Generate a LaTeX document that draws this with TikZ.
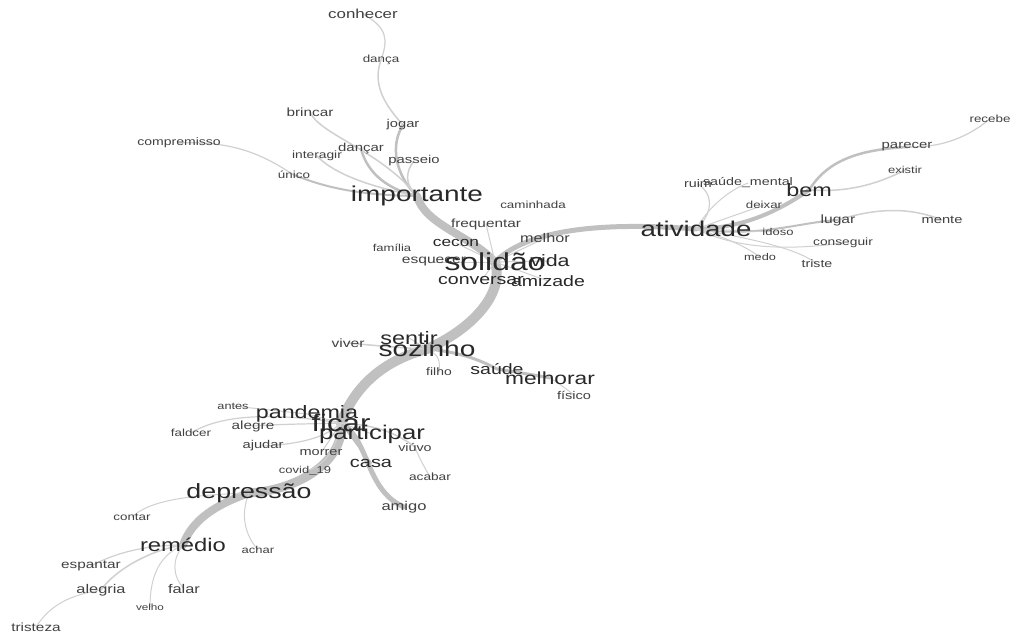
\documentclass[tikz,border=0pt]{standalone}
\usepackage{fontspec}
\setmainfont{Liberation Sans}[FakeStretch=1.3]
\usetikzlibrary{backgrounds}
\definecolor{edgec}{RGB}{192,192,192}
\definecolor{thinc}{RGB}{208,208,208}
\definecolor{txt}{RGB}{40,40,40}
\definecolor{txts}{RGB}{65,65,65}
\begin{document}
\begin{tikzpicture}[x=1pt,y=-1pt,
  word/.style={inner sep=0pt, text=txt, font=\fontsize{#1}{#1}\selectfont},
  sword/.style={inner sep=0pt, text=txts, font=\fontsize{#1}{#1}\selectfont},
  lnk/.style={draw=edgec, line width=#1, line cap=round},
  tlnk/.style={draw=thinc, line width=#1, line cap=round}]
\useasboundingbox (0,0) rectangle (1011,637);
% ---- top branch
\node[sword=13] (conhecer) at (363,14) {conhecer};
\node[sword=10.3] (danca) at (381,60) {dança};
\node[sword=11.8] (brincar) at (310,112) {brincar};
\node[sword=11.3] (jogar) at (403,125) {jogar};
\node[sword=10.8] (compremisso) at (179,143) {compremisso};
\node[sword=11.5] (dancar) at (361,149) {dançar};
\node[sword=10.6] (interagir) at (317,156) {interagir};
\node[sword=11.4] (passeio) at (414,161) {passeio};
\node[sword=10.3] (unico) at (294,175) {único};
\node[word=21.5] (importante) at (417,196) {importante};
% ---- centre
\node[sword=10.3] (caminhada) at (533,205) {caminhada};
\node[sword=11.8] (frequentar) at (486,224) {frequentar};
\node[sword=12.5] (melhor) at (545,238) {melhor};
\node[word=13.3] (cecon) at (456,243) {cecon};
\node[sword=10] (familia) at (392,248) {família};
\node[sword=12] (esquecer) at (434,262) {esquecer};
\node[word=16.5] (vida) at (550,261) {vida};
\node[word=24.5] (solidao) at (495,262) {solidão};
\node[word=15] (conversar) at (481,281) {conversar};
\node[word=15] (amizade) at (548,281) {amizade};
% ---- right
\node[sword=10.3] (recebe) at (990,119) {recebe};
\node[sword=11.5] (parecer) at (907,147) {parecer};
\node[sword=10] (existir) at (905,170) {existir};
\node[sword=11] (ruim) at (698,184) {ruim};
\node[sword=11] (saudemental) at (748,183) {saúde\_mental};
\node[word=18] (bem) at (809,190) {bem};
\node[sword=10.2] (deixar) at (764,205) {deixar};
\node[sword=12] (lugar) at (838,220) {lugar};
\node[sword=11.3] (mente) at (942,220) {mente};
\node[word=21.3] (atividade) at (696,229) {atividade};
\node[sword=10] (idoso) at (778,232) {idoso};
\node[sword=10.6] (conseguir) at (843,243) {conseguir};
\node[sword=9.8] (medo) at (760,257) {medo};
\node[sword=10.9] (triste) at (817,264) {triste};
% ---- sozinho
\node[sword=12] (viver) at (348,343) {viver};
\node[word=18] (sentir) at (409,338) {sentir};
\node[word=21.6] (sozinho) at (427,349) {sozinho};
\node[sword=10.7] (filho) at (439,372) {filho};
\node[word=15] (saude) at (497,369) {saúde};
\node[word=17.5] (melhorar) at (550,378) {melhorar};
\node[sword=11.2] (fisico) at (574,395) {físico};
% ---- ficar
\node[sword=9.8] (antes) at (233,406) {antes};
\node[word=17.9] (pandemia) at (307,414) {pandemia};
\node[word=24] (ficar) at (341,423) {ficar};
\node[sword=11.8] (alegre) at (253,426) {alegre};
\node[word=19.8] (participar) at (372,434) {participar};
\node[sword=10.3] (faldcer) at (191,433) {faldcer};
\node[sword=11.3] (ajudar) at (263,446) {ajudar};
\node[sword=11] (viuvo) at (415,447) {viúvo};
\node[sword=11.2] (morrer) at (321,453) {morrer};
\node[sword=10] (covid) at (305,471) {covid\_19};
\node[word=15.3] (casa) at (371,463) {casa};
\node[sword=10.5] (acabar) at (430,477) {acabar};
\node[word=20.6] (depressao) at (249,493) {depressão};
\node[sword=12.7] (amigo) at (404,507) {amigo};
% ---- remedio
\node[sword=10.3] (contar) at (132,517) {contar};
\node[word=18.3] (remedio) at (183,545) {remédio};
\node[sword=10] (achar) at (258,550) {achar};
\node[sword=11.8] (espantar) at (91,566) {espantar};
\node[sword=12.6] (alegria) at (101,590) {alegria};
\node[sword=12.6] (falar) at (184,589) {falar};
\node[sword=9] (velho) at (150,607) {velho};
\node[sword=11.8] (tristeza) at (36,627) {tristeza};

\begin{pgfonlayer}{background}
\fill[white] (0,0) rectangle (1011,637);
% trunk
\draw[lnk=8] (importante.center) .. controls (425,225) and (470,235) .. (solidao.center);
\draw[lnk=10] (solidao.center) .. controls (505,295) and (470,330) .. (sozinho.center);
\draw[lnk=10] (sozinho.center) .. controls (385,360) and (355,385) .. (ficar.center);
\draw[lnk=9] (ficar.center) .. controls (345,460) and (300,490) .. (depressao.center);
\draw[lnk=8] (depressao.center) .. controls (215,505) and (192,520) .. (remedio.center);
\draw[lnk=5] (solidao.center) .. controls (512,245) and (555,218) .. (atividade.center);
% top
\draw[lnk=2.5] (importante.center) .. controls (395,175) and (390,145) .. (jogar.center);
\draw[tlnk=1.5] (jogar.center) .. controls (385,105) and (372,85) .. (danca.center);
\draw[tlnk=1.2] (danca.center) .. controls (388,40) and (388,28) .. (conhecer.center);
\draw[tlnk=1.5] (importante.center) .. controls (405,185) and (405,172) .. (passeio.center);
\draw[lnk=2.5] (importante.center) .. controls (390,190) and (368,175) .. (dancar.center);
\draw[tlnk=1.5] (brincar.center) .. controls (320,135) and (380,150) .. (importante.center);
\draw[tlnk=1.5] (interagir.center) .. controls (330,170) and (360,185) .. (importante.center);
\draw[lnk=2] (unico.center) .. controls (320,185) and (350,195) .. (importante.center);
\draw[tlnk=1.2] (compremisso.center) .. controls (240,140) and (270,160) .. (unico.center);
% centre
\draw[tlnk=1] (solidao.center) -- (frequentar.center);
\draw[tlnk=1] (solidao.center) -- (cecon.center);
\draw[tlnk=1] (solidao.center) -- (melhor.center);
\draw[tlnk=1] (solidao.center) -- (esquecer.center);
\draw[tlnk=1] (solidao.center) -- (vida.center);
\draw[tlnk=1] (solidao.center) -- (conversar.center);
\draw[tlnk=1] (solidao.center) -- (amizade.center);
% right
\draw[lnk=4] (atividade.center) .. controls (745,228) and (780,210) .. (bem.center);
\draw[lnk=2.5] (bem.center) .. controls (825,165) and (850,150) .. (parecer.center);
\draw[tlnk=1.2] (parecer.center) .. controls (945,148) and (970,135) .. (recebe.center);
\draw[tlnk=1.5] (bem.center) .. controls (840,192) and (870,188) .. (existir.center);
\draw[lnk=2] (atividade.center) .. controls (760,238) and (800,222) .. (lugar.center);
\draw[tlnk=1.5] (lugar.center) .. controls (870,210) and (905,205) .. (mente.center);
\draw[tlnk=1] (atividade.center) .. controls (740,250) and (790,250) .. (conseguir.center);
\draw[tlnk=1] (atividade.center) .. controls (760,240) and (800,250) .. (triste.center);
\draw[tlnk=1] (atividade.center) .. controls (735,240) and (750,250) .. (medo.center);
\draw[tlnk=1.2] (atividade.center) .. controls (712,215) and (715,195) .. (ruim.center);
\draw[tlnk=1] (atividade.center) .. controls (710,205) and (730,190) .. (saudemental.center);
\draw[tlnk=1] (atividade.center) -- (deixar.center);
\draw[tlnk=1] (atividade.center) -- (idoso.center);
% sozinho
\draw[tlnk=1] (sozinho.center) -- (sentir.center);
\draw[tlnk=1.5] (viver.center) .. controls (370,345) and (400,348) .. (sozinho.center);
\draw[tlnk=1] (sozinho.center) .. controls (440,355) and (440,362) .. (filho.center);
\draw[lnk=3] (sozinho.center) .. controls (460,352) and (480,360) .. (saude.center);
\draw[lnk=3] (saude.center) .. controls (515,372) and (535,375) .. (melhorar.center);
\draw[tlnk=1] (melhorar.center) .. controls (560,384) and (565,388) .. (fisico.center);
% ficar
\draw[lnk=5] (ficar.center) .. controls (370,440) and (365,490) .. (amigo.center);
\draw[tlnk=1] (ficar.center) -- (participar.center);
\draw[tlnk=1] (ficar.center) -- (pandemia.center);
\draw[lnk=2] (ficar.center) -- (casa.center);
\draw[tlnk=1.5] (ficar.center) .. controls (375,425) and (395,432) .. (viuvo.center);
\draw[tlnk=1] (viuvo.center) .. controls (420,460) and (425,468) .. (acabar.center);
\draw[tlnk=1.2] (alegre.center) .. controls (280,424) and (310,424) .. (ficar.center);
\draw[tlnk=1.2] (faldcer.center) .. controls (220,415) and (270,412) .. (ficar.center);
\draw[tlnk=1] (antes.center) -- (pandemia.center);
\draw[tlnk=1.2] (ajudar.center) .. controls (300,444) and (325,438) .. (ficar.center);
\draw[tlnk=1] (ficar.center) -- (morrer.center);
\draw[tlnk=1] (ficar.center) .. controls (335,455) and (320,468) .. (covid.center);
\draw[tlnk=1] (depressao.center) .. controls (190,495) and (150,500) .. (contar.center);
\draw[tlnk=1] (depressao.center) .. controls (240,515) and (245,535) .. (achar.center);
% remedio
\draw[tlnk=1.2] (remedio.center) .. controls (145,545) and (115,553) .. (espantar.center);
\draw[tlnk=1.5] (remedio.center) .. controls (150,550) and (115,570) .. (alegria.center);
\draw[tlnk=1] (alegria.center) .. controls (70,595) and (50,605) .. (tristeza.center);
\draw[tlnk=1] (remedio.center) .. controls (160,555) and (150,575) .. (velho.center);
\draw[tlnk=1] (remedio.center) .. controls (172,560) and (172,575) .. (falar.center);
\end{pgfonlayer}
\end{tikzpicture}
\end{document}
